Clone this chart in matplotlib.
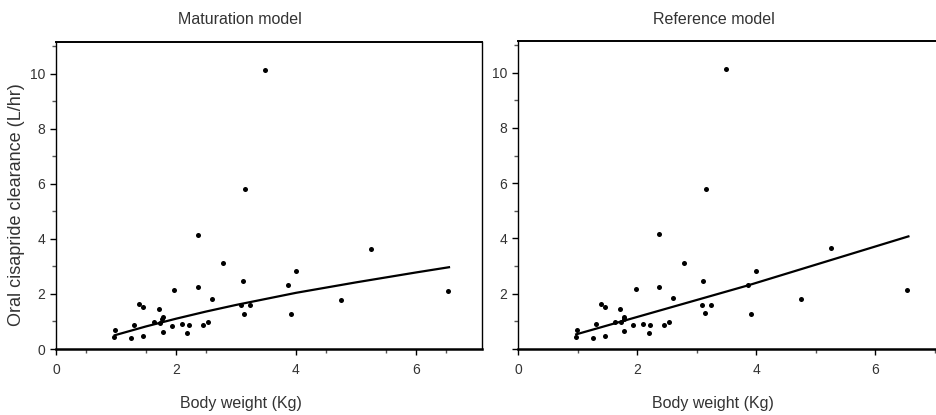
import matplotlib
matplotlib.use("Agg")
import matplotlib.pyplot as plt

plt.rcParams['font.family'] = ['Liberation Sans', 'DejaVu Sans']

# observed data (body weight in Kg, oral cisapride clearance in L/hr)
weight = [3.49, 3.15, 2.37, 5.25, 2.79, 4.00, 3.11, 3.86, 2.37, 1.97,
          6.53, 2.60, 4.75, 1.39, 1.45, 3.09, 3.24, 1.71, 3.13, 3.91,
          1.78, 1.77, 1.63, 1.73, 2.54, 1.30, 2.10, 2.21, 1.93, 2.45,
          0.98, 1.78, 2.19, 0.97, 1.45, 1.25]
clearance = [10.14, 5.80, 4.14, 3.64, 3.11, 2.83, 2.47, 2.31, 2.24, 2.16,
             2.12, 1.83, 1.79, 1.63, 1.52, 1.60, 1.60, 1.45, 1.28, 1.26,
             1.16, 1.09, 0.97, 0.96, 0.98, 0.88, 0.89, 0.86, 0.85, 0.86,
             0.68, 0.63, 0.57, 0.42, 0.47, 0.40]

# model predictions
mat_x = [0.98, 1.5, 2.0, 2.5, 3.0, 3.5, 4.0, 4.5, 5.0, 5.5, 6.0, 6.55]
mat_y = [0.50, 0.82, 1.10, 1.36, 1.60, 1.82, 2.04, 2.23, 2.42, 2.60, 2.78, 2.97]
ref_x = [0.97, 3.87, 6.56]
ref_y = [0.52, 2.30, 4.07]

titles = ["Maturation model", "Reference model"]
text_col = "#333333"

fig = plt.figure(figsize=(9.37, 4.15), dpi=100)
ax1 = fig.add_axes([56 / 937, 66 / 415, 426 / 937, 307 / 415])
ax2 = fig.add_axes([518.5 / 937, 66.3 / 415, 422 / 937, 307.7 / 415])

minor_sets = [[0.5, 1.5, 2.5, 4.5, 5.5, 6.5], [1, 3, 5, 7]]

for ax, lx, ly, minors in [(ax1, mat_x, mat_y, minor_sets[0]),
                           (ax2, ref_x, ref_y, minor_sets[1])]:
    ax.scatter(weight, clearance, s=13, color="black", zorder=3, linewidths=0)
    ax.plot(lx, ly, color="black", lw=1.6)
    ax.set_xlim(0, 7.1)
    ax.set_ylim(0, 11.15)
    ax.set_xticks([0, 2, 4, 6])
    ax.set_xticks(minors, minor=True)
    ax.set_yticks([0, 2, 4, 6, 8, 10])
    ax.set_yticks(range(1, 12, 2), minor=True)
    ax.tick_params(which="major", length=4, width=1, colors="black",
                   labelcolor=text_col, labelsize=10)
    ax.tick_params(which="minor", length=3, width=1, colors="#555555")
    ax.tick_params(axis="x", pad=6)
    ax.tick_params(axis="y", pad=4)
    ax.spines["bottom"].set_linewidth(1.8)
    ax.spines["top"].set_linewidth(1.4)
    ax.spines["left"].set_linewidth(1.0)
    ax.spines["right"].set_linewidth(1.0)

ax1.set_yticklabels(["0", "2", "4", "6", "8", "10"])
ax2.set_yticklabels(["", "2", "4", "6", "8", "10"])

fig.text(240 / 937, 1 - 19 / 415, titles[0], ha="center", va="center",
         fontsize=11.5, color=text_col)
fig.text(714 / 937, 1 - 19 / 415, titles[1], ha="center", va="center",
         fontsize=11.5, color=text_col)
fig.text(241 / 937, 12 / 415, "Body weight (Kg)", ha="center", va="center",
         fontsize=11.5, color=text_col)
fig.text(713 / 937, 12 / 415, "Body weight (Kg)", ha="center", va="center",
         fontsize=11.5, color=text_col)
fig.text(17 / 937, 1 - 205 / 415, "Oral cisapride clearance (L/hr)",
         rotation=90, ha="center", va="center", fontsize=13, color=text_col)

fig.savefig("out.png", dpi=100)
